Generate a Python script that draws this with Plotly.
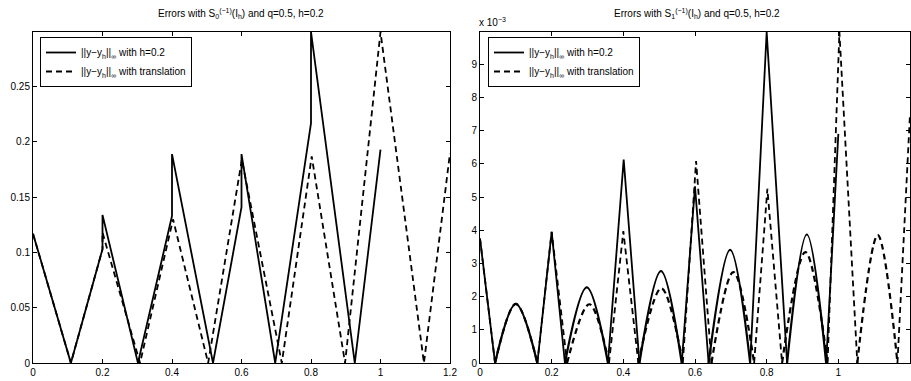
import plotly.graph_objects as go

# ---------------- data ----------------
# Left panel: S_0^(-1)(I_h), errors (piecewise linear)
LEFT_H_X = [0, 0.109, 0.2, 0.2, 0.302, 0.4, 0.4, 0.518, 0.6, 0.6, 0.697, 0.8, 0.8, 0.926, 1.0]
LEFT_H_Y = [0.117, 0, 0.103, 0.134, 0, 0.133, 0.189, 0, 0.141, 0.189, 0, 0.217, 0.2995, 0, 0.193]

LEFT_T_X = [0, 0.109, 0.2, 0.2, 0.308, 0.403, 0.504, 0.601, 0.716, 0.802, 0.898, 1.0, 1.125, 1.2]
LEFT_T_Y = [0.117, 0, 0.103, 0.118, 0, 0.13, 0, 0.184, 0, 0.187, 0, 0.2995, 0, 0.19]

# Right panel: S_1^(-1)(I_h), errors in units of 1e-3
# spike (linear) parts, None separates pieces
RIGHT_H_SPIKE_X = [0, 0.042, None, 0.16, 0.2, 0.237, None, 0.357, 0.401, 0.445, None,
                   0.563, 0.6, 0.638, None, 0.754, 0.8, 0.857, None, 0.966, 1.0]
RIGHT_H_SPIKE_Y = [3.75, 0, None, 0, 3.95, 0, None, 0, 6.13, 0, None,
                   0, 5.32, 0, None, 0, 9.97, 0, None, 0, 6.9]
# arc (smooth) parts: zero, peak, zero
RIGHT_H_ARC_X = [0.042, 0.1, 0.16, None, 0.237, 0.298, 0.357, None, 0.445, 0.505, 0.563, None,
                 0.638, 0.698, 0.754, None, 0.857, 0.912, 0.966]
RIGHT_H_ARC_Y = [0, 1.78, 0, None, 0, 2.28, 0, None, 0, 2.77, 0, None,
                 0, 3.41, 0, None, 0, 3.87, 0]

RIGHT_T_SPIKE_X = [0, 0.042, None, 0.16, 0.2, 0.243, None, 0.36, 0.4, 0.442, None,
                   0.566, 0.603, 0.646, None, 0.765, 0.802, 0.843, None, 0.97, 1.003, 1.053,
                   None, 1.165, 1.2]
RIGHT_T_SPIKE_Y = [3.75, 0, None, 0, 3.95, 0, None, 0, 3.97, 0, None,
                   0, 6.08, 0, None, 0, 5.25, 0, None, 0, 9.97, 0,
                   None, 0, 7.5]
RIGHT_T_ARC_X = [0.042, 0.1, 0.16, None, 0.243, 0.305, 0.36, None, 0.442, 0.506, 0.566, None,
                 0.646, 0.707, 0.765, None, 0.843, 0.908, 0.97, None, 1.053, 1.11, 1.165]
RIGHT_T_ARC_Y = [0, 1.78, 0, None, 0, 1.77, 0, None, 0, 2.25, 0, None,
                 0, 2.74, 0, None, 0, 3.34, 0, None, 0, 3.85, 0]

LEFT_YTICKS = [0, 0.05, 0.1, 0.15, 0.2, 0.25]
RIGHT_YTICKS = [0, 1, 2, 3, 4, 5, 6, 7, 8, 9]
XTICKS = [0, 0.2, 0.4, 0.6, 0.8, 1, 1.2]

NAME_H = "||y\u2212y<sub>h</sub>||<sub>\u221e</sub> with h=0.2"
NAME_T = "||y\u2212y<sub>h</sub>||<sub>\u221e</sub> with translation"

TITLE_L = "Errors with S<sub>0</sub><sup>(\u22121)</sup>(I<sub>h</sub>) and q=0.5, h=0.2"
TITLE_R = "Errors with S<sub>1</sub><sup>(\u22121)</sup>(I<sub>h</sub>) and q=0.5, h=0.2"

# ---------------- figure ----------------
W, H = 911, 381
FONT = "Liberation Sans, Arial, Helvetica, sans-serif"
SOLID = dict(color="black", width=1.8)
DASHED = dict(color="black", width=1.8, dash="6px,4px")
ARC_SOLID = dict(color="black", width=2.2, shape="spline", smoothing=1.0)
ARC_DASHED = dict(color="black", width=2.2, dash="6px,4px", shape="spline", smoothing=1.0)

fig = go.Figure()

fig.add_trace(go.Scatter(x=LEFT_H_X, y=LEFT_H_Y, mode="lines", line=SOLID, name=NAME_H,
                         xaxis="x", yaxis="y", legend="legend"))
fig.add_trace(go.Scatter(x=LEFT_T_X, y=LEFT_T_Y, mode="lines", line=DASHED, name=NAME_T,
                         xaxis="x", yaxis="y", legend="legend"))

fig.add_trace(go.Scatter(x=RIGHT_H_SPIKE_X, y=RIGHT_H_SPIKE_Y, mode="lines", line=SOLID,
                         name=NAME_H, xaxis="x2", yaxis="y2", legend="legend2",
                         legendgroup="rh", connectgaps=False))
fig.add_trace(go.Scatter(x=RIGHT_H_ARC_X, y=RIGHT_H_ARC_Y, mode="lines", line=ARC_SOLID,
                         name=NAME_H, xaxis="x2", yaxis="y2", legend="legend2",
                         legendgroup="rh", showlegend=False, connectgaps=False))
fig.add_trace(go.Scatter(x=RIGHT_T_SPIKE_X, y=RIGHT_T_SPIKE_Y, mode="lines", line=DASHED,
                         name=NAME_T, xaxis="x2", yaxis="y2", legend="legend2",
                         legendgroup="rt", connectgaps=False))
fig.add_trace(go.Scatter(x=RIGHT_T_ARC_X, y=RIGHT_T_ARC_Y, mode="lines", line=ARC_DASHED,
                         name=NAME_T, xaxis="x2", yaxis="y2", legend="legend2",
                         legendgroup="rt", showlegend=False, connectgaps=False))

ydom = [(H - 363) / H, (H - 32) / H]
axis_common = dict(showline=True, linecolor="black", linewidth=1, mirror="allticks",
                   ticks="inside", ticklen=4, tickwidth=1, tickcolor="black",
                   showgrid=False, zeroline=False, automargin=False,
                   tickfont=dict(family=FONT, size=10, color="black"))

legend_common = dict(bgcolor="white", bordercolor="black", borderwidth=1,
                     font=dict(family=FONT, size=10, color="black"),
                     xanchor="left", yanchor="top", tracegroupgap=0, itemwidth=30,
                     traceorder="normal")

fig.update_layout(
    width=W, height=H,
    margin=dict(l=0, r=0, t=0, b=0),
    paper_bgcolor="white", plot_bgcolor="white",
    font=dict(family=FONT, size=10, color="black"),
    xaxis=dict(axis_common, domain=[33 / W, 450 / W], range=[0, 1.2], tickvals=XTICKS,
               anchor="y"),
    yaxis=dict(axis_common, domain=ydom, range=[0, 0.2995], tickvals=LEFT_YTICKS,
               anchor="x"),
    xaxis2=dict(axis_common, domain=[480 / W, 910 / W], range=[0, 1.2], tickvals=XTICKS,
                anchor="y2"),
    yaxis2=dict(axis_common, domain=ydom, range=[0, 9.97], tickvals=RIGHT_YTICKS,
                anchor="x2"),
    legend=dict(legend_common, x=40 / W, y=(H - 37) / H),
    legend2=dict(legend_common, x=488 / W, y=(H - 37) / H),
    showlegend=True,
    annotations=[
        dict(text=TITLE_L, x=241 / W, y=(H - 14) / H, xref="paper", yref="paper",
             showarrow=False, xanchor="center", yanchor="middle",
             font=dict(family=FONT, size=10, color="black")),
        dict(text=TITLE_R, x=697 / W, y=(H - 14) / H, xref="paper", yref="paper",
             showarrow=False, xanchor="center", yanchor="middle",
             font=dict(family=FONT, size=10, color="black")),
        dict(text="x 10<sup>\u22123</sup>", x=477 / W, y=(H - 22) / H, xref="paper",
             yref="paper", showarrow=False, xanchor="left", yanchor="middle",
             font=dict(family=FONT, size=10, color="black")),
    ],
)

fig.write_html("out.html")
